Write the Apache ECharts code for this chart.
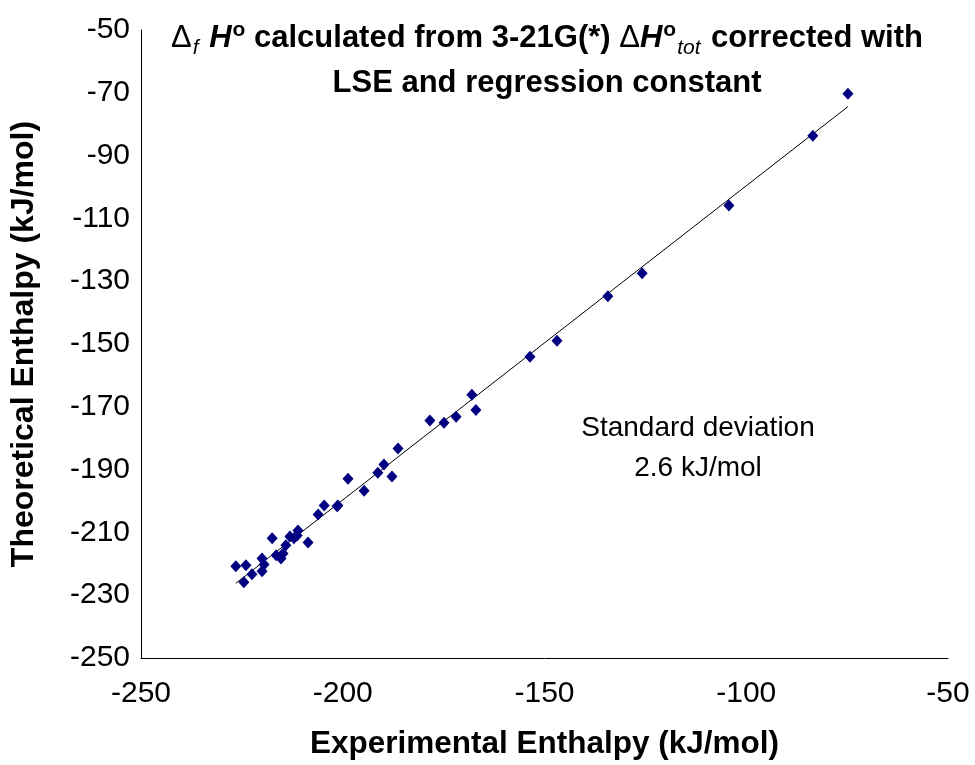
<!DOCTYPE html>
<html>
<head>
<meta charset="utf-8">
<script src="https://cdn.jsdelivr.net/npm/echarts@6/dist/echarts.min.js"></script>
<style>
  html, body { margin: 0; padding: 0; background: #fff; }
  #main { width: 975px; height: 765px; }
</style>
</head>
<body>
<div id="main"></div>
<script>
// experimental vs theoretical enthalpy (kJ/mol)
var expValues = [
    -226.5, -224.0, -224.5, -222.5, -220.0, -219.5, -220.0, -217.5, -216.5, -215.3,
    -214.8, -214.1, -213.1, -212.1, -211.1, -211.3, -208.6, -206.1, -204.6, -201.4,
    -201.2, -198.7, -194.7, -191.3, -189.8, -187.8, -186.3, -178.4, -174.9, -171.9,
    -168.0, -167.0, -153.6, -146.9, -134.3, -125.8, -104.3, -83.5, -74.8
];
var theoValues = [
    -220.8, -220.5, -225.9, -223.3, -218.3, -220.2, -222.4, -211.9, -217.3, -218.3,
    -216.7, -214.1, -211.3, -211.9, -209.4, -211.0, -213.2, -204.3, -201.4, -201.7,
    -201.4, -192.9, -196.7, -191.0, -188.4, -192.2, -183.3, -174.4, -175.1, -173.2,
    -166.2, -171.0, -154.1, -149.0, -134.8, -127.5, -105.9, -83.7, -70.3
];
// regression line end points
var fitX = [-226.5, -74.8];
var fitY = [-226.2, -74.4];

var xTicks = { min: -250, max: -50, step: 50 };
var yTicks = { min: -250, max: -50, step: 20 };

var points = [];
for (var i = 0; i < expValues.length; i++) {
    points.push([expValues[i], theoValues[i]]);
}
var fitLine = [];
for (var j = 0; j < fitX.length; j++) {
    fitLine.push([fitX[j], fitY[j]]);
}

var myChart = echarts.init(document.getElementById('main'));
var font = 'Liberation Sans, Arial, sans-serif';

myChart.setOption({
    animation: false,
    title: {
        text: '{d|\u0394}{sub|f}{hi| H}{sup|o} calculated from 3-21G(*) {d|\u0394}{hi|H}{sup|o}{sub|tot} corrected with\nLSE and regression constant',
        left: 542,
        top: 11,
        textAlign: 'center',
        textStyle: {
            fontFamily: font,
            fontSize: 31,
            fontWeight: 'bold',
            color: '#000',
            lineHeight: 45,
            rich: {
                d: { fontFamily: font, fontSize: 31, fontWeight: 'normal', color: '#000', lineHeight: 45 },
                hi: { fontFamily: font, fontSize: 31, fontWeight: 'bold', fontStyle: 'italic', color: '#000', lineHeight: 45 },
                sup: { fontFamily: font, fontSize: 21, fontWeight: 'bold', color: '#000', verticalAlign: 'top', lineHeight: 45, padding: [4, 0, 0, 1] },
                sub: { fontFamily: font, fontSize: 21, fontWeight: 'normal', fontStyle: 'italic', color: '#000', verticalAlign: 'bottom', lineHeight: 45, padding: [0, 2, 2, 1] }
            }
        }
    },
    grid: {
        left: 141,
        right: 27,
        top: 30,
        bottom: 105
    },
    xAxis: {
        type: 'value',
        min: xTicks.min,
        max: xTicks.max,
        interval: xTicks.step,
        name: 'Experimental Enthalpy (kJ/mol)',
        nameLocation: 'middle',
        nameGap: 70,
        nameTextStyle: { fontFamily: font, fontSize: 31.5, fontWeight: 'bold', color: '#000' },
        axisLine: { lineStyle: { color: '#000', width: 1 } },
        axisTick: { show: false },
        axisLabel: { fontFamily: font, fontSize: 30, color: '#000', margin: 21 },
        splitLine: { show: false }
    },
    yAxis: {
        type: 'value',
        min: yTicks.min,
        max: yTicks.max,
        interval: yTicks.step,
        name: 'Theoretical Enthalpy (kJ/mol)',
        nameLocation: 'middle',
        nameGap: 101,
        nameTextStyle: { fontFamily: font, fontSize: 32, fontWeight: 'bold', color: '#000' },
        axisLine: { show: true, lineStyle: { color: '#000', width: 1 } },
        axisTick: { show: false },
        axisLabel: { fontFamily: font, fontSize: 30, color: '#000', margin: 11 },
        splitLine: { show: false }
    },
    graphic: [{
        type: 'text',
        x: 698,
        y: 408,
        style: {
            text: 'Standard deviation\n2.6 kJ/mol',
            textAlign: 'center',
            fontFamily: font,
            fontSize: 28,
            lineHeight: 40,
            fill: '#000'
        }
    }],
    series: [
        {
            name: 'fit',
            type: 'line',
            data: fitLine,
            symbol: 'none',
            lineStyle: { color: '#000', width: 1 },
            z: 1
        },
        {
            name: 'points',
            type: 'scatter',
            data: points,
            symbol: 'diamond',
            symbolSize: [11, 12],
            itemStyle: { color: '#000080', opacity: 1 },
            z: 2
        }
    ]
});
</script>
</body>
</html>
